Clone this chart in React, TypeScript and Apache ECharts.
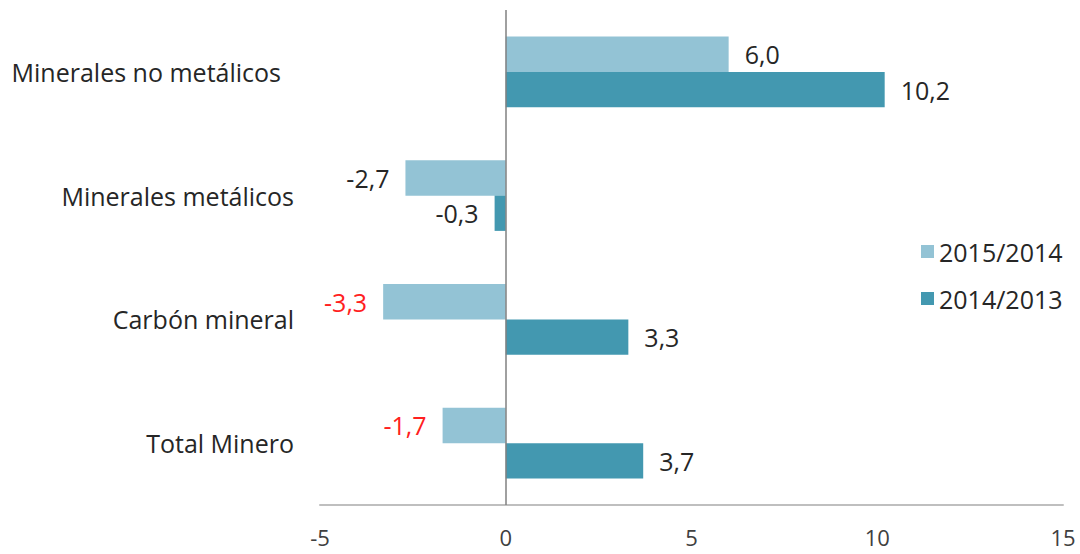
import React, { useEffect, useRef } from "react";
import * as echarts from "echarts";

const categories = ["Minerales no metálicos", "Minerales metálicos", "Carbón mineral", "Total Minero"];
const seriesNames = ["2015/2014", "2014/2013"];
const values2015 = [6.0, -2.7, -3.3, -1.7];
const values2014 = [10.2, -0.3, 3.3, 3.7];
const redLabels2015 = [false, false, true, true];
const colors = ["#93C3D5", "#4398B0"];
const xTicks = { min: -5, max: 15, interval: 5 };

const fmt = (v: number) => v.toFixed(1).replace(".", ",");

export default function App() {
  const ref = useRef<HTMLDivElement>(null);
  useEffect(() => {
    if (!ref.current) return;
    const chart = echarts.init(ref.current, undefined, { renderer: "svg" });
    const font = "Open Sans";
    const fs = 25;
    const mkData = (vals: number[], red?: boolean[]) =>
      vals.map((v, i) => ({
        value: v,
        label: {
          position: v >= 0 ? "right" : "left",
          color: red && red[i] ? "#FF2020" : "#262626",
        },
      }));
    chart.setOption({
      animation: false,
      textStyle: { fontFamily: font },
      grid: { left: 320, right: 17, top: 10, bottom: 49, containLabel: false },
      legend: {
        orient: "vertical",
        left: 916,
        top: 234,
        itemWidth: 13,
        itemHeight: 13,
        itemGap: 22,
        icon: "rect",
        textStyle: { fontSize: fs, color: "#262626", fontFamily: font },
        data: seriesNames,
      },
      xAxis: {
        type: "value",
        min: xTicks.min,
        max: xTicks.max,
        interval: xTicks.interval,
        axisLine: { show: true, onZero: false, lineStyle: { color: "#BFBFBF", width: 2 } },
        axisTick: { show: false },
        splitLine: { show: false },
        axisLabel: { fontSize: 22, lineHeight: 22, color: "#404040", margin: 21, fontFamily: font },
      },
      yAxis: {
        type: "category",
        inverse: true,
        data: categories,
        axisLine: { show: false },
        axisTick: { show: false },
        axisLabel: {
          fontSize: fs,
          color: "#262626",
          margin: 26,
          fontFamily: font,
          formatter: (v: string, i: number) => (i === 0 ? `{a|${v}}` : `{b|${v}}`),
          rich: {
            a: { fontSize: fs, color: "#262626", fontFamily: font, padding: [0, 13, 0, 0] },
            b: { fontSize: fs, color: "#262626", fontFamily: font },
          },
        },
      },
      series: [
        {
          name: seriesNames[0],
          type: "bar",
          barGap: "0%",
          barCategoryGap: "43%",
          itemStyle: { color: colors[0] },
          label: { show: true, fontSize: fs, distance: 16, fontFamily: font, formatter: (p: any) => fmt(p.value) },
          data: mkData(values2015, redLabels2015),
          markLine: {
            silent: true,
            symbol: "none",
            label: { show: false },
            lineStyle: { color: "#808080", width: 1.5, type: "solid" },
            data: [{ xAxis: 0 }],
          },
        },
        {
          name: seriesNames[1],
          type: "bar",
          barGap: "0%",
          barCategoryGap: "43%",
          itemStyle: { color: colors[1] },
          label: { show: true, fontSize: fs, distance: 16, fontFamily: font, formatter: (p: any) => fmt(p.value) },
          data: mkData(values2014),
        },
      ],
    });
    return () => chart.dispose();
  }, []);
  return (
    <div
      ref={ref}
      style={{ position: "fixed", left: 0, top: 0, width: 1080, height: 554, background: "#fff" }}
    />
  );
}
